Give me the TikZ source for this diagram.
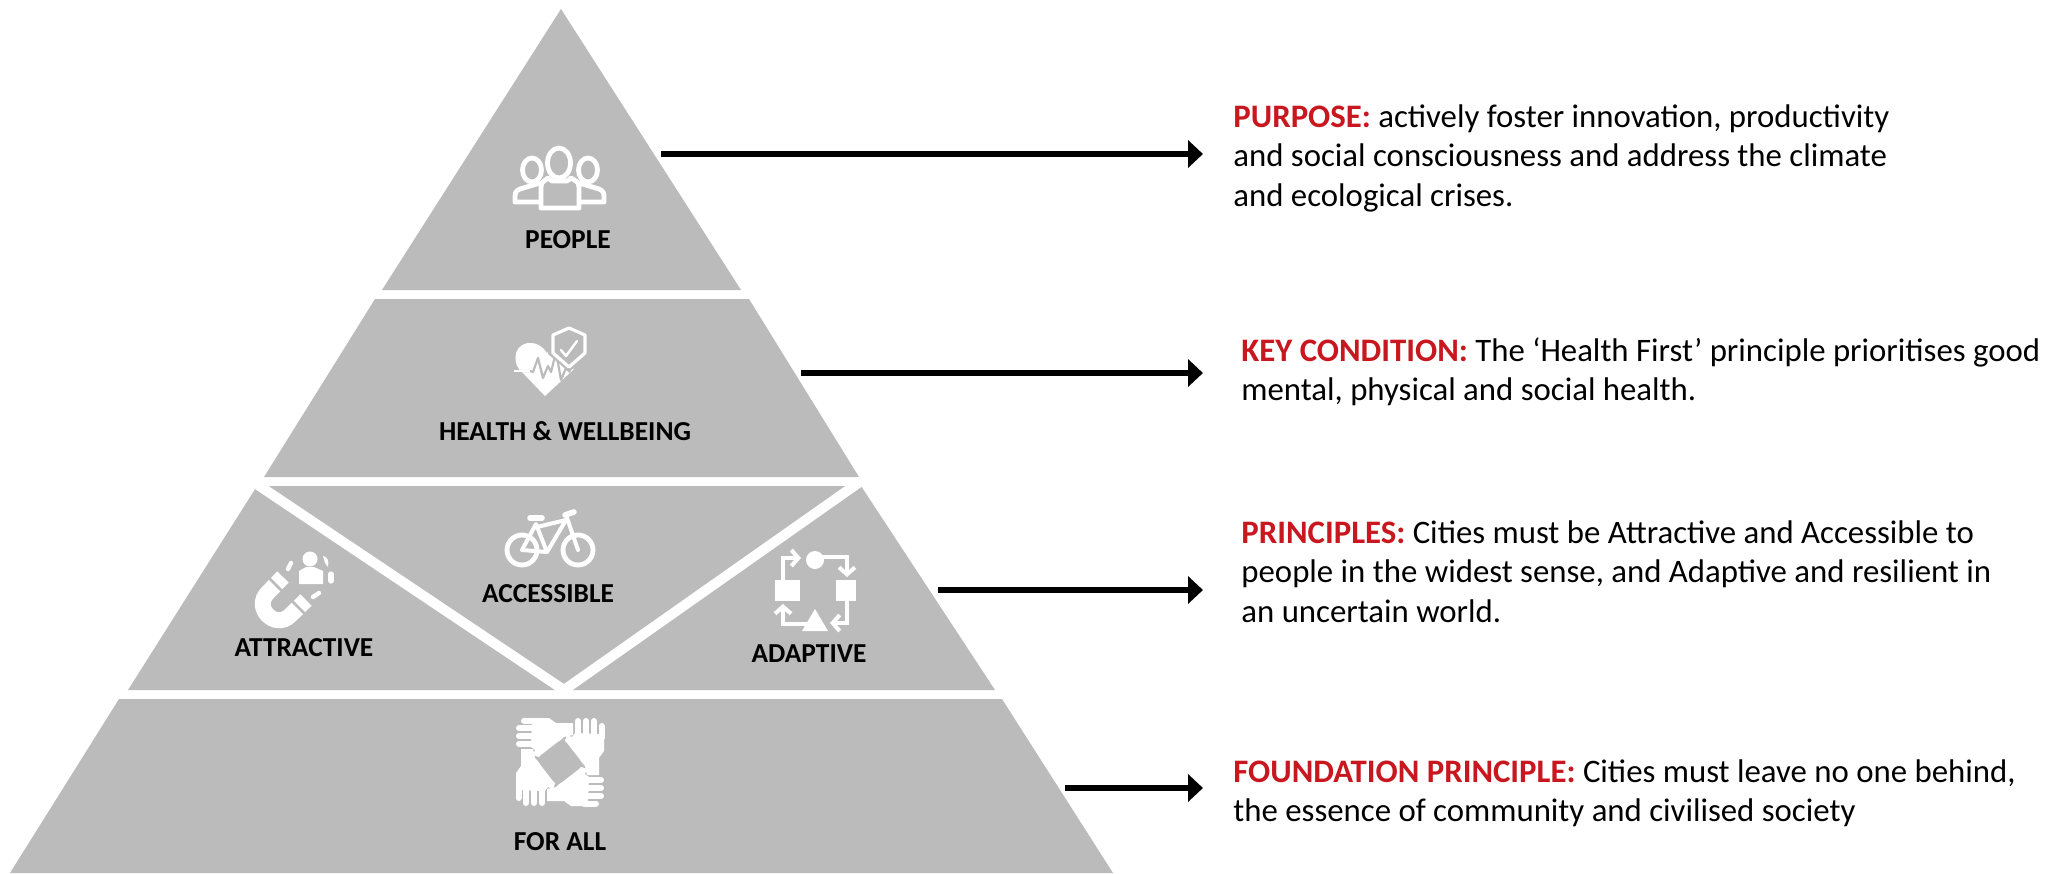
\documentclass[tikz,border=0pt]{standalone}
\usepackage{fontspec}
\setmainfont{Carlito}
\usetikzlibrary{arrows.meta}
\definecolor{tier}{HTML}{BBBBBB}
\definecolor{headred}{HTML}{C8171E}
\tikzset{
  tierfill/.style={fill=tier,draw=none},
  tierlabel/.style={font=\fontsize{13.7}{16}\selectfont\bfseries,text=black,inner sep=0pt},
  desc/.style={font=\fontsize{16.4}{19.75}\selectfont,align=left,anchor=north west,inner sep=0pt,text=black},
  pointer/.style={draw=black,line width=3pt,-{Triangle[length=7.5pt,width=13.5pt]}},
  iconline/.style={draw=white,line width=2.4pt,line cap=round,line join=round,fill=none},
  flowarrow/.style={draw=white,line width=2pt,-{Straight Barb[length=3.5pt,width=8pt,line width=2pt]}},
  finger/.style={draw=white,line width=3pt,line cap=round}
}
\newcommand{\hr}[1]{{\bfseries\color{headred}#1}}
\newcommand{\handshape}[1]{%
  \begin{scope}[shift={(560,762)},rotate=#1]
    \fill[white] (-28,-44) -- (-11,-44) -- (-4,-39) -- (13,-39) -- (13,-27) -- (4,-25) -- (-19,-4) -- (-27,-7) -- (-25,-12) -- (-29,-15) -- cycle;
    \draw[finger] (-36,-41.5) -- (-24,-41.5);
    \draw[finger] (-41,-34) -- (-24,-34);
    \draw[finger] (-41,-26) -- (-24,-26);
    \draw[finger] (-41,-18) -- (-24,-18);
  \end{scope}}
\begin{document}
\begin{tikzpicture}[x=0.5pt,y=-0.5pt]
\useasboundingbox (0,0) rectangle (2066,873);
% tiers
\fill[tierfill] (561,9) -- (741,290) -- (382,290) -- cycle;
\fill[tierfill] (375,299) -- (749,299) -- (859,477) -- (264,477) -- cycle;
\fill[tierfill] (257,486) -- (861,486) -- (995,690) -- (128,690) -- cycle;
\fill[tierfill] (119,699) -- (1002,699) -- (1113,873) -- (10,873) -- cycle;
% V
\draw[white,line width=5pt] (252,481) -- (564,690) -- (864,479);
% people
\begin{scope}
  \draw[iconline] (532,170) ellipse [x radius=9.5,y radius=12];
  \draw[iconline] (588,170) ellipse [x radius=9.5,y radius=12];
  \draw[iconline] (540,183) -- (520,189) .. controls (515,191) and (515,194) .. (515,198) -- (515,202) -- (540,202);
  \draw[iconline] (579,183) -- (599,189) .. controls (604,191) and (604,194) .. (604,198) -- (604,202) -- (579,202);
  \draw[iconline,fill=tier] (559,163) ellipse [x radius=11.5,y radius=15];
  \draw[iconline,fill=tier] (548,178) -- (552,181) -- (567,181) -- (571,178) -- (576,181) .. controls (579,183) and (579,186) .. (579,190) -- (579,208) -- (541,208) -- (541,190) .. controls (541,186) and (541,183) .. (544,181) -- cycle;
\end{scope}
% heart and shield
\begin{scope}
  \fill[white] (545,396) -- (519,369) .. controls (512,360) and (515,343) .. (530,343) .. controls (538,343) and (543,347) .. (547,353) -- (555,345) -- (553,353) -- (560,362) -- (574,369) -- cycle;
  \draw[tier,line width=1.1pt,line join=round] (520,371) -- (530,371) -- (533,372) -- (538,358) -- (543,378) -- (548,366) -- (551,372) -- (556,352) -- (561,380) -- (566,368) -- (570,372);
  \draw[white,line width=1.2pt] (514,371) -- (530,371);
  \fill[tier] (569,372) -- (548,354) -- (548,332) -- (569,322) -- (590,332) -- (590,354) -- cycle;
  \draw[iconline,line width=1.6pt] (569,328) -- (585,335) -- (585,353) -- (569,367) -- (553,353) -- (553,335) -- cycle;
  \draw[iconline,line width=1.2pt] (561,350) -- (566,356) -- (577,341);
\end{scope}
% magnet
\begin{scope}
  \draw[white,line width=8pt] (283,577) -- (267.7,592.7) .. controls (252.7,607.7) and (275.3,630.3) .. (290.3,615.3) -- (306,600);
  \draw[tier,line width=1.3pt] (265,574) -- (285,594);
  \draw[tier,line width=1.3pt] (290,599) -- (310,619);
  \fill[white] (310,559) circle [radius=7.5];
  \fill[white] (299,584) -- (299,571) -- (306,567) -- (314,567) -- (323,571) -- (323,584) -- cycle;
  \draw[iconline,line width=2.2pt] (291,563) -- (288,569);
  \draw[iconline,line width=2.2pt] (313,597) -- (319,593);
  \draw[iconline,line width=2.6pt] (331,574) -- (331,581);
  \fill[white] (323,556) .. controls (328,557) and (329,561) .. (328,567) -- (325,563) -- cycle;
\end{scope}
% bike
\begin{scope}
  \draw[iconline,line width=2.4pt] (522,550) circle [radius=15];
  \draw[iconline,line width=2.4pt] (578,550) circle [radius=15];
  \draw[iconline,line width=2pt] (522,550) -- (536,524) -- (547,552) -- cycle;
  \draw[iconline,line width=2pt] (537,527) -- (566,520) -- (547,552);
  \draw[iconline,line width=2pt] (566,515) -- (578,550);
  \draw[iconline,line width=2.8pt] (530,518) -- (542,518);
  \draw[iconline,line width=2.8pt] (565,515) -- (574,512);
\end{scope}
% adaptive
\begin{scope}
  \fill[white] (815,560) circle [radius=9];
  \fill[white] (775,580) rectangle (800,601);
  \fill[white] (836,580) rectangle (856,601);
  \fill[white] (815,609) -- (828,631) -- (802,631) -- cycle;
  \draw[flowarrow] (783,581) -- (783,558) -- (801,558);
  \draw[flowarrow] (815,557) -- (847,557) -- (847,577);
  \draw[flowarrow] (847,599) -- (847,623) -- (830,623);
  \draw[flowarrow] (815,624) -- (783,624) -- (783,604);
\end{scope}
% hands
\handshape{0}
\handshape{90}
\handshape{180}
\handshape{270}
\fill[tier,rounded corners=3pt] (536,759) -- (563,738) -- (584,765) -- (557,786) -- cycle;
% labels
\node[tierlabel] (people) at (568,240) {PEOPLE};
\node[tierlabel] (health) at (565,431) {HEALTH \& WELLBEING};
\node[tierlabel] (access) at (548,594) {ACCESSIBLE};
\node[tierlabel] (attract) at (304,648) {ATTRACTIVE};
\node[tierlabel] (adapt) at (809,654) {ADAPTIVE};
\node[tierlabel] (forall) at (560,842) {FOR ALL};
% descriptions
\node[desc] (purpose) at (1233,104) {\hr{PURPOSE:} actively foster innovation, productivity\\and social consciousness and address the climate\\and ecological crises.};
\node[desc] (key) at (1241,337) {\hr{KEY CONDITION:} The ‘Health First’ principle prioritises good\\mental, physical and social health.};
\node[desc] (princ) at (1241,520) {\hr{PRINCIPLES:} Cities must be Attractive and Accessible to\\people in the widest sense, and Adaptive and resilient in\\an uncertain world.};
\node[desc] (found) at (1233,759) {\hr{FOUNDATION PRINCIPLE:} Cities must leave no one behind,\\the essence of community and civilised society};
% arrows
\coordinate (a1) at (661,154);
\coordinate (b1) at (1203,154);
\coordinate (a2) at (801,373);
\coordinate (b2) at (1203,373);
\coordinate (a3) at (938,590);
\coordinate (b3) at (1203,590);
\coordinate (a4) at (1065,788);
\coordinate (b4) at (1203,788);
\draw[pointer] (a1) -- (b1);
\draw[pointer] (a2) -- (b2);
\draw[pointer] (a3) -- (b3);
\draw[pointer] (a4) -- (b4);
\end{tikzpicture}
\end{document}
